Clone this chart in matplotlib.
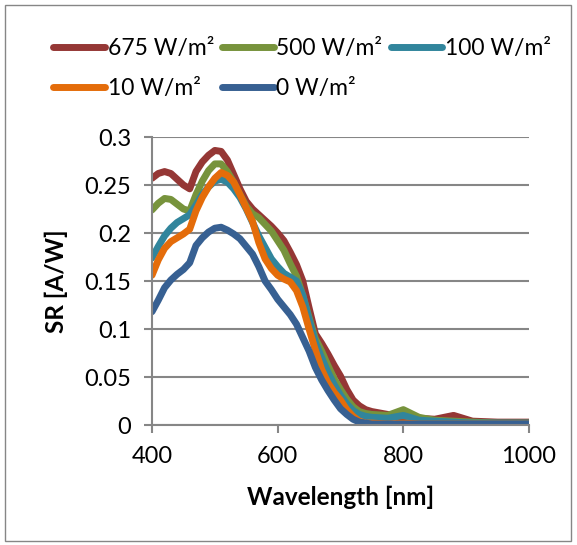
import matplotlib
matplotlib.use('Agg')
import matplotlib.pyplot as plt
from matplotlib.patches import Rectangle

plt.rcParams['font.family'] = ['Lato', 'DejaVu Sans']

# wavelength grid (nm) and spectral response (A/W) per irradiance
wavelength = [400, 410, 420, 430, 440, 450, 460, 470, 480, 490,
              500, 510, 520, 530, 540, 550, 560, 570, 580, 590,
              600, 610, 620, 630, 640, 650, 660, 670, 680, 690,
              700, 710, 720, 730, 740, 750, 775, 800, 825, 850,
              880, 910, 950, 1000]

sr_675 = [0.257, 0.262, 0.264, 0.262, 0.256, 0.250, 0.246, 0.264, 0.274, 0.281,
          0.286, 0.285, 0.276, 0.261, 0.246, 0.233, 0.225, 0.219, 0.213, 0.207,
          0.200, 0.192, 0.180, 0.167, 0.150, 0.122, 0.095, 0.085, 0.074, 0.062,
          0.051, 0.037, 0.026, 0.020, 0.016, 0.014, 0.011, 0.008, 0.007, 0.006,
          0.010, 0.004, 0.003, 0.003]

sr_500 = [0.224, 0.231, 0.236, 0.235, 0.230, 0.225, 0.223, 0.240, 0.254, 0.265,
          0.272, 0.272, 0.264, 0.253, 0.240, 0.228, 0.220, 0.216, 0.209, 0.202,
          0.192, 0.182, 0.168, 0.155, 0.135, 0.112, 0.090, 0.077, 0.062, 0.048,
          0.037, 0.027, 0.019, 0.014, 0.012, 0.011, 0.010, 0.016, 0.008, 0.005,
          0.004, 0.003, 0.002, 0.002]

sr_100 = [0.174, 0.186, 0.197, 0.205, 0.211, 0.215, 0.219, 0.229, 0.240, 0.248,
          0.254, 0.256, 0.253, 0.246, 0.237, 0.225, 0.211, 0.197, 0.185, 0.173,
          0.165, 0.158, 0.154, 0.150, 0.135, 0.110, 0.086, 0.070, 0.055, 0.042,
          0.031, 0.022, 0.015, 0.011, 0.009, 0.008, 0.007, 0.010, 0.005, 0.004,
          0.003, 0.002, 0.002, 0.002]

sr_10 = [0.156, 0.172, 0.184, 0.191, 0.195, 0.199, 0.204, 0.223, 0.237, 0.248,
         0.257, 0.263, 0.260, 0.253, 0.240, 0.226, 0.212, 0.190, 0.173, 0.163,
         0.156, 0.152, 0.149, 0.140, 0.123, 0.100, 0.078, 0.058, 0.044, 0.034,
         0.026, 0.016, 0.009, 0.004, 0.002, 0.002, 0.001, 0.002, 0.001, 0.001,
         0.001, 0.001, 0.001, 0.001]

sr_0 = [0.118, 0.130, 0.143, 0.151, 0.157, 0.162, 0.169, 0.187, 0.195, 0.201,
        0.205, 0.206, 0.203, 0.199, 0.194, 0.186, 0.178, 0.165, 0.150, 0.141,
        0.131, 0.123, 0.115, 0.105, 0.091, 0.077, 0.060, 0.047, 0.036, 0.026,
        0.017, 0.011, 0.006, 0.003, 0.002, 0.001, 0.001, 0.001, 0.001, 0.001,
        0.001, 0.001, 0.001, 0.001]

series = [('675 W/m²', sr_675, '#953735'),
          ('500 W/m²', sr_500, '#77933C'),
          ('100 W/m²', sr_100, '#31859C'),
          ('10 W/m²', sr_10, '#E46C0A'),
          ('0 W/m²', sr_0, '#376092')]

fig = plt.figure(figsize=(5.77, 5.45), dpi=100)
ax = fig.add_axes([152/577, 120/545, 377/577, 288/545])

lines = {}
for label, vals, color in series:
    ln, = ax.plot(wavelength, vals, color=color, lw=5, label=label,
                  solid_capstyle='round', solid_joinstyle='round')
    lines[label] = ln

ax.set_xlim(400, 1000)
ax.set_ylim(0, 0.3)
ax.set_xticks([400, 600, 800, 1000])
ax.set_yticks([0, 0.05, 0.1, 0.15, 0.2, 0.25, 0.3])
ax.set_yticklabels(['0', '0.05', '0.1', '0.15', '0.2', '0.25', '0.3'])
ax.grid(axis='y', color='#868686', lw=1.5)
ax.set_axisbelow(True)
for s in ['top', 'right']:
    ax.spines[s].set_visible(False)
for s in ['left', 'bottom']:
    ax.spines[s].set_color('#868686')
    ax.spines[s].set_linewidth(1.5)
ax.tick_params(direction='out', length=6, width=1.5, color='#868686',
               labelsize=17, pad=9)

ax.set_xlabel('Wavelength [nm]', fontsize=17.5, fontweight='bold')
ax.set_ylabel('SR [A/W]', fontsize=17.5, fontweight='bold')
ax.xaxis.set_label_coords(0.5, -0.21)
ax.yaxis.set_label_coords(-0.222, 0.5)

# legend filled row-wise: 675, 500, 100 / 10, 0
order = ['675 W/m²', '10 W/m²', '500 W/m²', '0 W/m²', '100 W/m²']
fig.legend([lines[k] for k in order], order, ncol=3, frameon=False,
           loc='upper left', bbox_to_anchor=(42/577, 1 - 27/545),
           fontsize=16.5, handlelength=2.25, handletextpad=0.12,
           columnspacing=0.35, labelspacing=0.82, borderpad=0)

fig.patches.append(Rectangle((5/577, 4/545), 566/577, 536/545,
                             transform=fig.transFigure, fill=False,
                             edgecolor='#868686', lw=1))

fig.savefig('out.png', dpi=100)
